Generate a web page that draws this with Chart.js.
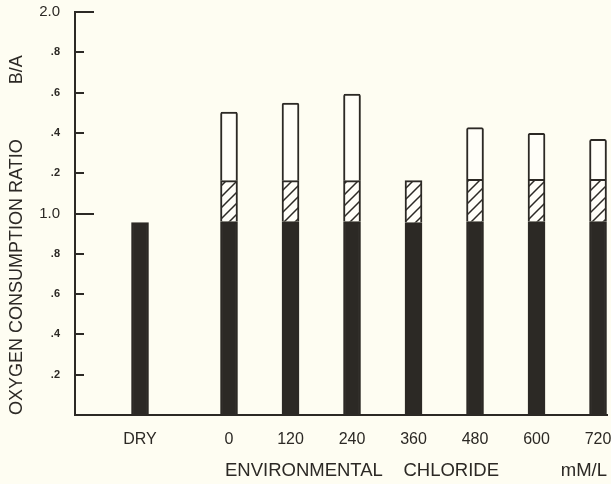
<!DOCTYPE html>
<html><head><meta charset="utf-8">
<script src="https://cdn.jsdelivr.net/npm/chart.js@4.4.0/dist/chart.umd.min.js"></script>
<style>html,body{margin:0;padding:0;background:#fefdf2;overflow:hidden}</style>
</head><body>
<canvas id="c" width="611" height="484"></canvas>
<script>
// ---- data ----
const categories = ['DRY', '0', '120', '240', '360', '480', '600', '720'];
const baseValues = [0.955, 0.96, 0.96, 0.96, 0.955, 0.96, 0.96, 0.96];      // solid black segment
const hatchedValues = [0, 0.203, 0.203, 0.203, 0.208, 0.21, 0.21, 0.21];    // hatched segment
const openValues = [0, 0.34, 0.385, 0.43, 0, 0.256, 0.228, 0.198];          // open (white) segment
const yTickLabels = ['', '.2', '.4', '.6', '.8', '1.0', '.2', '.4', '.6', '.8', '2.0'];

// ---- layout ----
const slotCenters = [-1.447, 0, 1, 2, 3, 4, 5, 6];
const INK = '#2c2925';
const FAMILY = '"Liberation Sans", Arial, sans-serif';

function hatchPattern() {
  const s = 11;
  const c = document.createElement('canvas');
  c.width = s; c.height = s;
  const g = c.getContext('2d');
  g.fillStyle = '#fffef8';
  g.fillRect(0, 0, s, s);
  g.strokeStyle = INK;
  g.lineWidth = 1.5;
  g.beginPath();
  g.moveTo(-2, s + 2); g.lineTo(s + 2, -2);
  g.moveTo(-2, 2); g.lineTo(2, -2);
  g.moveTo(s - 2, s + 2); g.lineTo(s + 2, s - 2);
  g.stroke();
  return g.createPattern(c, 'repeat');
}

function series(vals) {
  return categories.map((c, i) => ({x: slotCenters[i], y: vals[i]})).filter(p => p.y > 0);
}

const innerTicks = {
  id: 'innerTicks',
  afterDraw(chart) {
    const y = chart.scales.y, ctx = chart.ctx, l = chart.chartArea.left;
    ctx.save();
    ctx.strokeStyle = INK;
    ctx.lineWidth = 2;
    y.ticks.forEach(t => {
      if (t.value < 0.1) return;
      const py = Math.round(y.getPixelForValue(t.value));
      const k = Math.round(t.value * 5);
      const major = (k === 5 || k === 10);
      ctx.beginPath();
      ctx.moveTo(l - 1, py);
      ctx.lineTo(l + (major ? 19 : 9), py);
      ctx.stroke();
    });
    ctx.restore();
  }
};

const common = {barThickness: 17, borderColor: INK, borderWidth: 2, borderSkipped: 'start'};

new Chart(document.getElementById('c'), {
  type: 'bar',
  data: {
    datasets: [
      Object.assign({label: 'base', data: series(baseValues), backgroundColor: INK}, common),
      Object.assign({label: 'hatched', data: series(hatchedValues), backgroundColor: hatchPattern()}, common),
      Object.assign({label: 'open', data: series(openValues), backgroundColor: '#fffef8', borderRadius: {topLeft: 2, topRight: 2}}, common)
    ]
  },
  options: {
    responsive: false,
    animation: false,
    devicePixelRatio: 1,
    layout: {padding: {top: 12, right: 4, left: 0, bottom: 0}},
    plugins: {legend: {display: false}, tooltip: {enabled: false}},
    scales: {
      x: {
        type: 'linear', min: -2.504, max: 6.146, stacked: true, offset: false,
        afterBuildTicks: s => { s.ticks = slotCenters.map(v => ({value: v})); },
        ticks: {
          autoSkip: false, maxRotation: 0, padding: 15, color: INK,
          font: {family: FAMILY, size: 16},
          callback: (v, i) => categories[i]
        },
        grid: {display: false, drawTicks: false, offset: false},
        border: {display: true, color: INK, width: 2},
        title: {
          display: true, align: 'end', color: INK,
          text: 'ENVIRONMENTAL    CHLORIDE            mM/L',
          font: {family: FAMILY, size: 18.5},
          padding: {top: 0, bottom: 2}
        },
        afterFit: s => { s.height = 69; s.paddingLeft = 0; s.paddingRight = 0; }
      },
      y: {
        min: 0, max: 2, stacked: true,
        ticks: {
          stepSize: 0.2, padding: 15, color: INK,
          font: ctx => {
            const k = ctx.tick ? Math.round(ctx.tick.value * 5) : 5;
            return (k === 5 || k === 10) ? {family: FAMILY, size: 15} : {family: FAMILY, size: 11, weight: 'bold'};
          },
          callback: v => yTickLabels[Math.round(v * 5)]
        },
        grid: {display: false, drawTicks: false},
        border: {display: true, color: INK, width: 2},
        title: {
          display: true, align: 'start', color: INK,
          text: 'OXYGEN CONSUMPTION RATIO           B/A',
          font: {family: FAMILY, size: 18},
          padding: {top: 6, bottom: 0}
        },
        afterFit: s => { s.width = 75; s.paddingTop = 0; s.paddingBottom = 0; }
      }
    }
  },
  plugins: [innerTicks]
});
</script>
</body></html>
